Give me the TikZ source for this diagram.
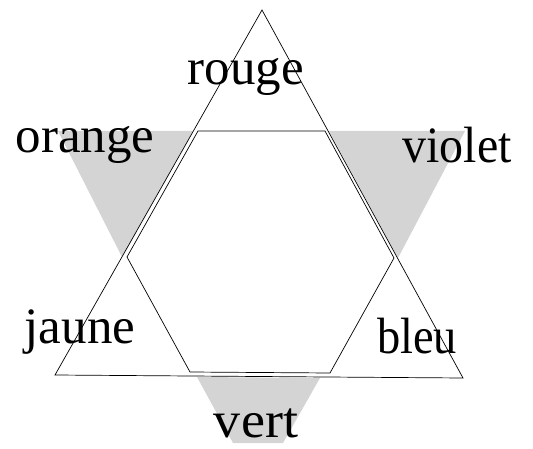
\documentclass[tikz,border=0pt]{standalone}
\usepackage{fontspec}
\setmainfont{Liberation Serif}
\begin{document}
\begin{tikzpicture}[x=1pt,y=-1pt,
  edge/.style={draw=black,line width=0.7pt,line join=miter},
  stipple/.style={fill=black!17,draw=none},
  lab/.style={anchor=base,inner sep=0pt,text=black,font=\fontsize{51}{51}\selectfont}]
\useasboundingbox (0,0) rectangle (533,449);
% shaded parts of the inverted triangle
\fill[stipple] (58,131) -- (193,131) -- (122,257) -- cycle;
\fill[stipple] (329,131) -- (465,131) -- (398,258) -- cycle;
\fill[stipple] (197,377) -- (320,378) -- (283,443) -- (233,443) -- cycle;
% upright triangle
\draw[edge] (262,10) -- (463,378) -- (55,375) -- cycle;
% hexagon
\draw[edge] (198,131) -- (325,131) -- (394,258) -- (330,373) -- (190,372) -- (127,257) -- cycle;
% labels
\node[lab] (rouge) at (246,85) {rouge};
\node[lab] (orange) at (85,153) {orange};
\node[lab,xscale=0.94] (violet) at (457,163) {violet};
\node[lab] (jaune) at (80,343) {jaune};
\node[lab,xscale=0.91] (bleu) at (417,353) {bleu};
\node[lab,xscale=1.06] (vert) at (256,437) {vert};
\end{tikzpicture}
\end{document}
